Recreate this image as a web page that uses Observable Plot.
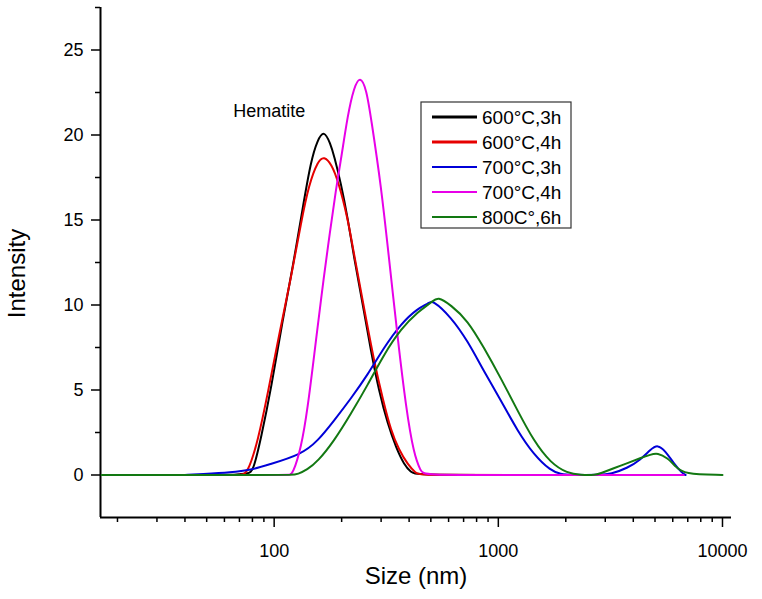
<!DOCTYPE html>
<html><head><meta charset="utf-8">
<script src="https://cdn.jsdelivr.net/npm/d3@7"></script>
<script src="https://cdn.jsdelivr.net/npm/@observablehq/plot@0.6"></script>
<style>
html,body{margin:0;padding:0;background:#fff;}
#chart{position:relative;width:762px;height:599px;}
</style></head><body><div id="chart"></div>
<script>
// ---- data (size in nm, intensity) ----
const seriesNames = ["600°C,3h", "600°C,4h", "700°C,3h", "700°C,4h", "800C°,6h"];
const seriesColors = ["#000000", "#e60000", "#0000d8", "#e800e8", "#127812"];

const s600_3h = [[47,0],[65,0],[70,0.05],[76.6,0.1],[80.6,0.2],[87.5,2.2],[97,5.1],[109,9.1],[121,12.2],[134,15.7],[146,18.5],[156,19.7],[167,20.3],[178,19.5],[185,18.8],[199,17.1],[213,15.1],[227,12.8],[248,10.1],[270,7.3],[294,4.9],[321,3.0],[350,1.6],[380,0.6],[408,0.15],[430,0],[1000,0],[6700,0]];
const s600_4h = [[47,0],[68,0],[73,0],[77,0.3],[84.6,2.0],[93.7,4.8],[105.3,8.3],[119,11.6],[132,14.9],[143,17.1],[157,18.5],[167,18.75],[180,18.3],[193,17.3],[213,15.1],[227,13.0],[252,9.8],[279,6.7],[306,4.4],[332,2.6],[360,1.5],[395,0.6],[429,0.1],[450,0],[1000,0],[6700,0]];
const s700_3h = [[40,0],[47.3,0.05],[64.3,0.15],[79,0.3],[93.7,0.6],[131.9,1.2],[156.6,2.0],[185,3.2],[220,4.5],[261.5,5.9],[309,7.5],[368,8.9],[436.6,9.8],[490,10.1],[509,10.3],[614,9.3],[729,7.9],[862,6.1],[1026,4.4],[1217,2.6],[1439,1.2],[1713,0.25],[1898,0.05],[2100,0],[2861,0],[3171,0.05],[3763,0.4],[4312,0.9],[4778,1.5],[5134,1.8],[5574,1.4],[6048,0.7],[6615,0.1],[6843,0]];
const s700_4h = [[47,0],[110,0],[117,0],[121,0.05],[132,1.6],[141,3.9],[151,7.1],[162,10.4],[173.5,13.4],[189,16.9],[199,18.6],[213,21.2],[227,22.8],[241.6,23.5],[258,22.7],[270.5,21.0],[300,17.0],[325,12.8],[356,8.0],[387,4.0],[420,1.2],[452,0.2],[465,0],[1000,0],[6700,0]];
const s800_6h = [[17,0],[100,0],[120,0],[127.5,0.05],[140,0.3],[156.6,0.8],[185,2.0],[220,3.6],[261.5,5.3],[309,7.1],[368,8.6],[436.6,9.6],[509,10.2],[536,10.5],[614,10.0],[729,9.1],[862,7.5],[1026,5.7],[1217,3.8],[1439,2.0],[1713,0.7],[2033,0.1],[2331,0],[2719,0],[2861,0.1],[3269,0.4],[3772,0.7],[4312,1.0],[4778,1.2],[5134,1.3],[5689,1.0],[6174,0.5],[6704,0.05],[10000,0]];
const seriesData = [s600_3h, s600_4h, s700_3h, s700_4h, s800_6h];

const xDomain = [16.8, 10970];
const yDomain = [-2.5, 27.5];
const xMajorTicks = [100, 1000, 10000];
const xMinorTicks = [20,30,40,50,60,70,80,90,200,300,400,500,600,700,800,900,2000,3000,4000,5000,6000,7000,8000,9000];
const yMajorTicks = [0, 5, 10, 15, 20, 25];
const yMinorTicks = [2.5, 7.5, 12.5, 17.5, 22.5, 27.5];
const xLabel = "Size (nm)";
const yLabel = "Intensity";
const annotations = [{x: 95, y: 21.4, text: "Hematite"}];

// ---- build table ----
const rows = [];
seriesData.forEach((arr, i) => arr.forEach(([x, y]) => rows.push({series: seriesNames[i], x, y})));

const FONT = "'Liberation Sans', Arial, sans-serif";

const svg = Plot.plot({
  width: 762, height: 599,
  marginLeft: 100, marginRight: 31, marginTop: 7, marginBottom: 82,
  style: {fontFamily: FONT, background: "#fff", color: "#000", overflow: "visible"},
  x: {type: "log", domain: xDomain},
  y: {domain: yDomain},
  color: {domain: seriesNames, range: seriesColors},
  marks: [
    Plot.axisX({ticks: xMinorTicks, tickSize: 5, tickFormat: () => "", label: null, strokeWidth: 1.5}),
    Plot.axisX({ticks: xMajorTicks, tickSize: 10, tickPadding: 17, tickFormat: d => String(d), fontSize: 18, label: null, strokeWidth: 1.5}),
    Plot.axisY({ticks: yMinorTicks, tickSize: 5, tickFormat: () => "", label: null, strokeWidth: 1.5}),
    Plot.axisY({ticks: yMajorTicks, tickSize: 9, tickPadding: 8, tickFormat: d => String(d), fontSize: 18, label: null, strokeWidth: 1.5}),
    Plot.ruleX([xDomain[0]], {stroke: "#000", strokeWidth: 2}),
    Plot.ruleY([yDomain[0]], {stroke: "#000", strokeWidth: 2}),
    Plot.line(rows, {x: "x", y: "y", z: "series", stroke: "series", strokeWidth: 2, curve: "basis"}),
    Plot.text(annotations, {x: "x", y: "y", text: "text", fontSize: 18, fill: "#000"}),
    Plot.text([xLabel], {frameAnchor: "bottom", textAnchor: "middle", dy: 66, fontSize: 24, fill: "#000"}),
    Plot.text([yLabel], {frameAnchor: "left", textAnchor: "middle", lineAnchor: "middle", dx: -83, dy: 11, rotate: -90, fontSize: 24, fill: "#000"})
  ]
});

// ---- legend box inside the plot ----
const lg = d3.select(svg).append("g").attr("transform", "translate(421,102)");
lg.append("rect").attr("x", 0).attr("y", 0).attr("width", 150).attr("height", 126)
  .attr("fill", "#fff").attr("stroke", "#333").attr("stroke-width", 1.2);
const legendWidths = [3, 3, 2, 2, 2];
seriesNames.forEach((name, i) => {
  const yy = 15 + i * 25;
  lg.append("line").attr("x1", 11).attr("x2", 56).attr("y1", yy).attr("y2", yy)
    .attr("stroke", seriesColors[i]).attr("stroke-width", legendWidths[i]);
  lg.append("text").attr("x", 61).attr("y", yy).attr("dy", "0.35em")
    .attr("text-anchor", "start")
    .attr("font-family", FONT).attr("font-size", 19).attr("fill", "#000").text(name);
});

document.getElementById("chart").appendChild(svg);
</script>
</body></html>
